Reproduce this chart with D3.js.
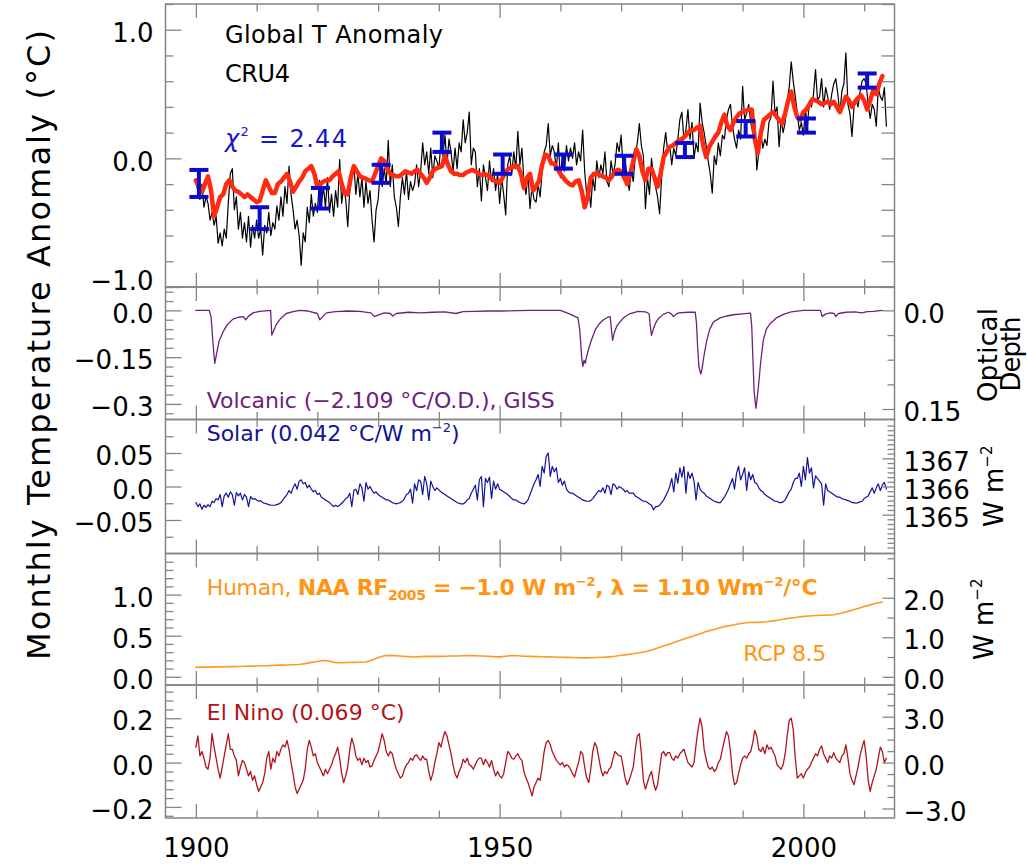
<!DOCTYPE html>
<html>
<head>
<meta charset="utf-8">
<script src="https://cdn.jsdelivr.net/npm/d3@7"></script>
<style>
  body { margin: 0; background: #fff; }
  svg { display: block; }
  text { font-family: "DejaVu Sans", "Liberation Sans", sans-serif; }
</style>
</head>
<body>
<svg id="chart" width="1027" height="864"></svg>
<script>
// ---------------- data ----------------
// CRU4 monthly global temperature anomaly (degC), three samples per year from 1900
const cruStart = 1900, cruPerYear = 3;
const cru4 = [
  -0.19,-0.25,-0.32, -0.20,-0.38,-0.30, -0.35,-0.48,-0.42, -0.52,-0.45,-0.66, -0.58,-0.68,-0.55, -0.62,-0.35,-0.12, -0.08,-0.40,-0.30, -0.55,-0.42,-0.62, -0.50,-0.65,-0.45, -0.69,-0.52,-0.62,
  -0.48,-0.62,-0.55, -0.75,-0.52,-0.58, -0.42,-0.60,-0.50, -0.55,-0.37,-0.48, -0.30,-0.45,-0.22, -0.35,-0.06,-0.28, -0.40,-0.55,-0.48, -0.60,-0.83,-0.58, -0.65,-0.38,-0.50, -0.28,-0.45,-0.35,
  -0.42,-0.17,-0.35, -0.22,-0.38,-0.15, -0.42,-0.28,-0.45, -0.25,-0.38,-0.01, -0.35,-0.22,-0.32, -0.53,-0.25,-0.15, -0.05,-0.28,-0.12, -0.30,-0.15,-0.38, -0.18,-0.35,-0.25, -0.48,-0.65,-0.40,
  -0.32,-0.12,-0.22, -0.08,-0.20,0.14, -0.22,-0.05,-0.30, -0.38,-0.53,-0.30, -0.15,-0.28,-0.10, -0.32,-0.18,-0.25, -0.20,-0.05,-0.22, -0.10,0.12,-0.05, 0.05,-0.12,0.08, -0.15,0.02,-0.02,
  -0.08,0.12,0.02, 0.18,-0.05,0.15, 0.05,-0.10,0.08, -0.08,0.12,0.05, 0.30,0.12,0.20, 0.36,-0.05,0.08, 0.05,-0.22,-0.08, -0.33,-0.05,-0.15, -0.25,-0.02,-0.18, -0.08,-0.25,-0.12,
  -0.35,-0.15,-0.28, -0.44,-0.05,0.02, -0.12,0.05,-0.08, 0.21,-0.05,0.08, -0.18,-0.28,-0.12, -0.39,-0.22,-0.32, -0.34,-0.20,-0.30, -0.10,0.05,0.10, 0.27,0.02,0.10, 0.05,-0.08,0.12,
  -0.15,0.02,-0.10, 0.10,-0.02,0.08, 0.00,0.12,-0.05, 0.05,-0.02,0.22, -0.10,-0.28,-0.22, -0.38,-0.15,-0.25, -0.02,-0.15,-0.05, -0.12,0.05,-0.18, -0.22,-0.02,-0.12, -0.05,0.12,0.05,
  0.18,-0.08,-0.02, -0.15,-0.25,-0.10, -0.18,0.02,0.12, 0.27,0.10,0.02, -0.39,-0.15,-0.28, 0.00,-0.15,-0.22, -0.30,-0.43,-0.15, 0.08,0.20,0.05, 0.10,-0.05,0.08, 0.02,0.15,0.30,
  0.36,0.15,0.22, 0.38,0.15,0.28, 0.00,0.12,0.05, 0.43,0.28,0.20, 0.10,-0.02,-0.12, -0.27,0.02,-0.05, 0.12,0.02,0.18, 0.15,0.30,0.38, 0.42,0.25,0.15, 0.08,0.22,0.15,
  0.56,0.30,0.35, 0.42,0.28,0.20, 0.30,-0.09,0.05, 0.20,0.08,0.15, 0.10,0.28,0.32, 0.60,0.35,0.40, 0.09,0.30,0.20, 0.28,0.45,0.55, 0.75,0.60,0.48, 0.35,0.22,0.28,
  0.18,0.38,0.25, 0.45,0.40,0.50, 0.69,0.45,0.48, 0.62,0.40,0.55, 0.48,0.38,0.50, 0.58,0.62,0.50, 0.35,0.52,0.58, 0.82,0.42,0.35, 0.17,0.40,0.45, 0.40,0.52,0.60,
  0.62,0.58,0.42, 0.31,0.42,0.38, 0.25,0.55,0.48, 0.45,0.55,0.25
];

// Fitted model (degC), two samples per year from 1900
const modelStart = 1900, modelPerYear = 2;
const model = [
  -0.17,-0.22, -0.26,-0.20, -0.14,-0.25, -0.45,-0.38, -0.30,-0.28, -0.20,-0.17, -0.22,-0.25, -0.26,-0.28, -0.30,-0.28, -0.30,-0.32,
  -0.34,-0.33, -0.25,-0.17, -0.22,-0.27, -0.27,-0.20, -0.18,-0.15, -0.12,-0.18, -0.26,-0.22, -0.18,-0.15, -0.10,-0.08, -0.06,-0.12,
  -0.22,-0.20, -0.18,-0.17, -0.17,-0.14, -0.12,-0.10, -0.20,-0.27, -0.28,-0.15, -0.06,-0.10, -0.14,-0.15, -0.16,-0.17, -0.18,-0.12,
  -0.06,0.00, -0.02,-0.08, -0.12,-0.13, -0.14,-0.14, -0.12,-0.10, -0.11,-0.12, -0.10,-0.09, -0.12,-0.15, -0.19,-0.15, -0.10,-0.08,
  -0.07,-0.06, 0.02,-0.05, -0.10,-0.12, -0.12,-0.13, -0.13,-0.11, -0.10,-0.09, -0.10,-0.12, -0.13,-0.12, -0.13,-0.15, -0.17,-0.18,
  -0.19,-0.15, -0.10,-0.08, -0.07,-0.06, -0.06,-0.12, -0.23,-0.15, -0.12,-0.25, -0.22,-0.17, -0.05,0.03, 0.02,-0.04, -0.04,-0.08,
  -0.12,-0.15, -0.18,-0.20, -0.21,-0.18, -0.17,-0.25, -0.38,-0.30, -0.15,-0.12, -0.12,-0.13, -0.14,-0.15, -0.17,-0.14, -0.10,-0.09,
  -0.10,-0.15, -0.20,-0.12, -0.02,0.07, 0.02,-0.10, -0.17,-0.08, -0.08,-0.15, -0.22,-0.12, 0.01,0.05, 0.09,0.10, 0.12,0.14,
  0.15,0.17, 0.20,0.22, 0.22,0.24, 0.25,0.10, 0.01,0.09, 0.13,0.17, 0.20,0.28, 0.34,0.25, 0.22,0.28, 0.32,0.35,
  0.36,0.37, 0.38,0.38, 0.15,0.04, 0.20,0.30, 0.32,0.34, 0.36,0.33, 0.30,0.27, 0.35,0.45, 0.52,0.40, 0.32,0.30,
  0.36,0.38, 0.42,0.46, 0.45,0.44, 0.42,0.43, 0.44,0.42, 0.44,0.40, 0.36,0.42, 0.48,0.45, 0.40,0.44, 0.47,0.49,
  0.45,0.38, 0.45,0.53, 0.50,0.58, 0.64
];

// Decadal means with uncertainty range (degC)
const decadeYears = [1900.5, 1910.5, 1920.5, 1930.5, 1940.5, 1950.5, 1960.5, 1970.5, 1980.5, 1990.5, 2000.5, 2010.5];
const decadeHigh  = [-0.09, -0.38, -0.23, -0.05, 0.20, 0.03, 0.03, 0.02, 0.12, 0.29, 0.31, 0.66];
const decadeLow   = [-0.30, -0.55, -0.39, -0.19, 0.05, -0.12, -0.08, -0.12, 0.01, 0.17, 0.20, 0.55];

// Volcanic term (degC) as [year, value]
const volcanic = [
  [1900,0],[1902.2,0],[1902.5,-0.02],[1902.8,-0.10],[1903.1,-0.17],[1903.4,-0.14],[1903.8,-0.10],[1904.5,-0.068],
  [1905.2,-0.045],[1906.1,-0.028],[1907,-0.022],[1907.8,-0.02],[1908.2,-0.03],[1908.6,-0.02],[1909.4,-0.008],[1910.5,-0.003],
  [1912.3,0],[1912.5,-0.079],[1912.8,-0.065],[1913.3,-0.043],[1914,-0.025],[1914.9,-0.01],[1916,-0.004],[1917.1,0],
  [1918.5,-0.002],[1920,-0.01],[1920.4,-0.03],[1920.9,-0.02],[1921.5,-0.008],[1923,-0.004],[1925,-0.002],[1927,-0.003],
  [1928.8,-0.008],[1929.4,-0.02],[1930,-0.015],[1931,-0.008],[1932,-0.01],[1932.4,-0.018],[1933,-0.01],[1935,-0.006],
  [1937,-0.008],[1939,-0.006],[1941,-0.005],[1942.8,-0.01],[1944,-0.004],[1946,-0.003],[1948,-0.002],[1950,-0.002],
  [1953,-0.001],[1955,0],[1958,0],[1960,0],[1961.5,-0.011],[1962.9,-0.024],[1963.2,-0.064],[1963.5,-0.15],
  [1963.7,-0.18],[1963.9,-0.16],[1964.1,-0.17],[1964.3,-0.15],[1964.7,-0.12],[1965.1,-0.096],[1965.8,-0.06],[1966.4,-0.043],
  [1967.1,-0.03],[1967.8,-0.022],[1968.2,-0.02],[1968.4,-0.06],[1968.6,-0.096],[1968.9,-0.07],[1969.3,-0.05],[1969.8,-0.037],
  [1970.5,-0.022],[1971.4,-0.011],[1972.8,-0.003],[1974,-0.005],[1974.6,-0.01],[1974.8,-0.05],[1975,-0.08],[1975.3,-0.06],
  [1975.7,-0.04],[1976.1,-0.027],[1977,-0.012],[1977.8,-0.006],[1978.3,-0.012],[1978.6,-0.02],[1979,-0.013],[1979.5,-0.008],
  [1981,-0.006],[1982.2,-0.006],[1982.4,-0.04],[1982.6,-0.12],[1982.8,-0.18],[1983.1,-0.204],[1983.3,-0.19],[1983.6,-0.15],
  [1984.1,-0.096],[1984.6,-0.06],[1985.2,-0.037],[1986.3,-0.024],[1987.4,-0.018],[1988.5,-0.014],[1990,-0.011],[1991.3,-0.009],
  [1991.5,-0.05],[1991.7,-0.16],[1991.9,-0.26],[1992.1,-0.30],[1992.2,-0.314],[1992.4,-0.28],[1992.6,-0.245],[1993,-0.16],
  [1993.4,-0.096],[1993.9,-0.06],[1994.5,-0.043],[1995.5,-0.025],[1996.7,-0.013],[1998,-0.005],[2000,0],[2002.8,0],
  [2003.1,-0.02],[2003.6,-0.012],[2004.4,-0.008],[2005.1,-0.01],[2005.3,-0.02],[2005.8,-0.01],[2007,-0.006],[2008.5,-0.005],
  [2009.6,-0.008],[2010.5,-0.004],[2011.5,-0.003],[2013,0]
];

// Solar term (degC), three samples per year from 1900
const solarStart = 1900, solarPerYear = 3;
const solar = [
  -0.024,-0.030,-0.026, -0.034,-0.028,-0.031, -0.027,-0.030,-0.022, -0.024,-0.018,-0.020, -0.012,-0.030,-0.014, -0.010,-0.016,-0.008, -0.012,-0.028,-0.009, -0.014,-0.010,-0.020, -0.012,-0.016,-0.030, -0.015,-0.019,-0.018,
  -0.020,-0.022,-0.021, -0.024,-0.025,-0.026, -0.027,-0.028,-0.028, -0.028,-0.027,-0.026, -0.024,-0.020,-0.016, -0.012,-0.006,-0.010, -0.002,0.004,-0.004, 0.008,0.010,0.004, 0.006,-0.002,0.002, -0.004,-0.008,-0.006,
  -0.012,-0.010,-0.016, -0.018,-0.020,-0.022, -0.024,-0.027,-0.030, -0.028,-0.030,-0.028, -0.025,-0.022,-0.018, -0.016,-0.010,-0.030, -0.006,-0.004,-0.012, 0.004,-0.002,-0.022, 0.006,-0.004,0.000, -0.006,-0.010,-0.008,
  -0.012,-0.014,-0.016, -0.018,-0.020,-0.020, -0.022,-0.024,-0.025, -0.026,-0.025,-0.024, -0.022,-0.018,-0.012, -0.010,-0.004,-0.025, 0.004,-0.006,0.010, 0.008,-0.012,0.015, 0.004,-0.020,0.008, 0.000,-0.006,-0.002,
  -0.005,-0.008,-0.010, -0.012,-0.014,-0.016, -0.018,-0.020,-0.022, -0.024,-0.025,-0.026, -0.026,-0.024,-0.020, -0.018,-0.010,-0.004, 0.002,-0.020,0.010, 0.015,-0.030,0.012, 0.006,0.014,-0.018, 0.008,-0.004,0.004,
  -0.004,-0.006,-0.008, -0.010,-0.012,-0.015, -0.018,-0.020,-0.020, -0.022,-0.024,-0.025, -0.026,-0.024,-0.020, -0.012,-0.004,0.004, 0.010,0.018,0.000, 0.030,0.020,0.045, 0.050,0.015,0.030, 0.022,0.028,0.006,
  0.012,0.002,0.008, -0.004,-0.008,-0.010, -0.010,-0.012,-0.014, -0.016,-0.018,-0.020, -0.021,-0.022,-0.022, -0.021,-0.018,-0.014, -0.010,-0.006,-0.008, -0.002,-0.010,0.002, 0.000,-0.012,0.004, 0.002,-0.004,0.000,
  -0.002,-0.004,-0.008, -0.006,-0.010,-0.010, -0.010,-0.014,-0.016, -0.018,-0.020,-0.022, -0.022,-0.024,-0.026, -0.028,-0.035,-0.030, -0.030,-0.028,-0.024, -0.020,-0.014,-0.008, 0.000,0.012,-0.008, 0.020,0.005,0.028,
  0.014,0.030,-0.010, 0.022,0.012,0.020, 0.008,-0.020,0.006, -0.004,-0.008,-0.010, -0.014,-0.016,-0.018, -0.020,-0.022,-0.023, -0.024,-0.024,-0.020, -0.016,-0.010,-0.004, 0.004,0.012,-0.004, 0.020,0.030,0.010,
  0.018,0.028,-0.006, 0.022,0.010,0.018, 0.006,0.004,-0.002, -0.006,-0.008,-0.012, -0.014,-0.016,-0.018, -0.020,-0.022,-0.022, -0.024,-0.024,-0.023, -0.020,-0.014,-0.008, -0.004,0.006,0.012, 0.012,0.020,0.000,
  0.030,0.010,0.043, 0.020,0.028,-0.002, 0.016,0.012,0.008, 0.004,-0.028,0.004, -0.006,-0.008,-0.010, -0.012,-0.014,-0.016, -0.016,-0.018,-0.019, -0.020,-0.021,-0.022, -0.024,-0.024,-0.025, -0.024,-0.023,-0.022,
  -0.018,-0.016,-0.014, -0.008,-0.002,-0.010, -0.002,0.004,-0.006, 0.002,0.006,-0.004
];

// Human term (degC), one sample per year from 1900
const humanStart = 1900, humanPerYear = 1;
const human = [
  0.115,0.117,0.118,0.120,0.121,0.122,0.124,0.126,0.128,0.130,
  0.132,0.134,0.136,0.140,0.142,0.144,0.147,0.150,0.160,0.175,
  0.185,0.198,0.190,0.172,0.170,0.173,0.175,0.177,0.180,0.205,
  0.235,0.255,0.260,0.255,0.250,0.245,0.240,0.245,0.248,0.250,
  0.248,0.250,0.252,0.253,0.255,0.258,0.255,0.252,0.250,0.245,
  0.242,0.250,0.258,0.255,0.250,0.248,0.245,0.243,0.242,0.240,
  0.238,0.236,0.235,0.232,0.230,0.232,0.235,0.238,0.242,0.250,
  0.262,0.270,0.280,0.292,0.305,0.325,0.350,0.375,0.400,0.425,
  0.450,0.475,0.500,0.525,0.550,0.570,0.590,0.610,0.625,0.640,
  0.652,0.660,0.662,0.665,0.670,0.680,0.690,0.705,0.715,0.725,
  0.735,0.740,0.745,0.748,0.750,0.755,0.770,0.790,0.810,0.830,
  0.855,0.875,0.895,0.910
];

// El Nino term (degC), three samples per year from 1900
const ninoStart = 1900, ninoPerYear = 3;
const nino = [
  0.07,0.12,0.03, 0.05,0.02,-0.02, -0.03,0.02,0.13, 0.07,0.02,-0.03, -0.07,-0.02,0.03, 0.08,0.13,0.06, 0.06,0.03,0.01, -0.06,-0.02,0.01, 0.00,-0.03,-0.06, -0.04,-0.08,-0.06,
  -0.10,-0.13,-0.11, -0.09,-0.05,0.02, 0.05,-0.03,0.02, 0.00,0.05,0.03, 0.06,0.08,0.07, 0.10,0.06,0.00, -0.05,-0.11,-0.14, -0.12,-0.10,-0.08, -0.03,0.06,0.10, 0.07,0.03,0.04,
  0.00,-0.02,-0.04, -0.06,-0.03,-0.05, -0.03,-0.01,0.02, 0.04,0.07,0.02, -0.05,-0.09,-0.06, -0.02,0.06,0.11, 0.08,0.03,0.01, 0.02,-0.01,0.02, 0.00,0.01,-0.02, -0.015,0.01,0.03,
  0.05,0.09,0.13, 0.10,0.05,0.03, 0.05,0.04,0.00, -0.03,-0.05,-0.07, -0.06,-0.03,-0.01, 0.00,0.02,0.01, 0.03,0.035,0.02, 0.01,0.03,0.015, 0.015,-0.04,-0.08, -0.05,0.00,0.04,
  0.09,0.07,0.11, 0.14,0.12,0.08, 0.04,-0.01,-0.05, -0.07,-0.04,-0.02, 0.015,0.00,0.02, -0.01,-0.015,-0.03, -0.01,0.01,0.02, 0.02,-0.01,0.015, 0.00,-0.02,0.01, -0.03,-0.06,-0.04,
  -0.06,-0.07,-0.05, 0.00,0.05,0.04, 0.02,0.015,0.03, 0.04,0.02,0.01, -0.04,-0.07,-0.09, -0.12,-0.15,-0.11, -0.09,-0.07,-0.08, -0.02,0.05,0.09, 0.10,0.08,0.05, 0.03,0.01,0.00,
  -0.01,0.00,-0.02, -0.01,-0.015,-0.03, -0.05,-0.065,-0.03, 0.00,0.05,0.04, -0.02,-0.07,-0.09, -0.03,0.05,0.09, 0.07,0.02,-0.03, -0.06,-0.04,-0.05, -0.03,-0.02,0.02, 0.05,0.04,0.03,
  0.03,-0.02,-0.07, -0.10,-0.08,-0.05, -0.02,0.06,0.12, 0.13,0.04,-0.08, -0.12,-0.09,-0.06, -0.04,-0.09,-0.125, -0.10,-0.03,0.04, 0.05,0.03,0.045, 0.045,0.02,0.01, 0.03,0.02,0.04,
  0.05,0.06,0.03, 0.00,-0.01,-0.02, 0.00,0.08,0.15, 0.20,0.16,0.06, 0.015,-0.02,-0.03, -0.02,-0.04,-0.03, 0.00,0.015,0.06, 0.10,0.14,0.12, 0.05,-0.05,-0.10, -0.09,-0.05,-0.01,
  0.02,0.03,0.02, 0.04,0.05,0.09, 0.145,0.12,0.06, 0.05,0.07,0.04, 0.08,0.06,0.07, 0.05,0.03,-0.01, -0.02,-0.03,-0.01, 0.04,0.12,0.19, 0.20,0.15,0.02, -0.07,-0.06,-0.05,
  -0.07,-0.045,-0.03, -0.02,0.00,0.02, 0.04,0.03,0.06, 0.075,0.04,0.02, 0.00,0.03,0.02, 0.045,0.02,0.01, 0.00,0.03,0.04, 0.08,0.02,-0.05, -0.08,-0.10,-0.06, -0.02,0.03,0.07,
  0.10,0.03,-0.08, -0.13,-0.09,-0.06, -0.03,0.02,0.07, 0.05,0.00,0.02
];

// Regression coefficients used for the right-hand axes
const volcCoef = -2.109;   // degC per optical depth
const solarCoef = 0.042;   // degC per W m-2
const solarMean = 1366;    // W m-2
const humanRightScale = 2.08; // W m-2 per degC on the forcing axis
const ninoCoef = 0.069;    // degC per index unit

// Tick values and labels
const xMajorYears = [1900, 1950, 2000];
const xMinorYears = [1910, 1920, 1930, 1940, 1960, 1970, 1980, 1990, 2010];
const xLabels = ["1900", "1950", "2000"];
const tempTicks = [1.0, 0.0, -1.0], tempLabels = ["1.0", "0.0", "\u22121.0"];
const volcTicks = [0.0, -0.15, -0.3], volcLabels = ["0.0", "\u22120.15", "\u22120.3"];
const odTicks = [0.0, 0.15], odLabels = ["0.0", "0.15"];
const solarTicks = [0.05, 0.0, -0.05], solarLabels = ["0.05", "0.0", "\u22120.05"];
const tsiTicks = [1367, 1366, 1365], tsiLabels = ["1367", "1366", "1365"];
const humanTicks = [1.0, 0.5, 0.0], humanLabels = ["1.0", "0.5", "0.0"];
const forcingTicks = [2.0, 1.0, 0.0], forcingLabels = ["2.0", "1.0", "0.0"];
const ninoTicks = [0.2, 0.0, -0.2], ninoLabels = ["0.2", "0.0", "\u22120.2"];
const ninoIdxTicks = [3.0, 0.0, -3.0], ninoIdxLabels = ["3.0", "0.0", "\u22123.0"];

// ---------------- layout ----------------
const svg = d3.select("#chart");
const L = 165.5, R = 894.5;
const frameColor = "#858585";
const x = d3.scaleLinear().domain([1895, 2015]).range([L, R]);

const P = {
  temp:  { top: 4,     bottom: 287 },
  volc:  { top: 287,   bottom: 419.5 },
  solar: { top: 419.5, bottom: 553.5 },
  human: { top: 553.5, bottom: 685 },
  nino:  { top: 685,   bottom: 818 }
};

const yTemp  = d3.scaleLinear().domain([-1.0, 1.2]).range([P.temp.bottom, P.temp.top]);
const yVolc  = d3.scaleLinear().domain([-0.35, 0.075]).range([P.volc.bottom, P.volc.top]);
const yOD    = d3.scaleLinear().domain([-0.35 / volcCoef, 0.075 / volcCoef]).range([P.volc.bottom, P.volc.top]);
const ySolar = d3.scaleLinear().domain([-0.1, 0.1]).range([P.solar.bottom, P.solar.top]);
const yTSI   = d3.scaleLinear().domain([solarMean - 0.1 / solarCoef, solarMean + 0.1 / solarCoef]).range([P.solar.bottom, P.solar.top]);
const yHuman = d3.scaleLinear().domain([-0.1, 1.5]).range([P.human.bottom, P.human.top]);
const yForce = d3.scaleLinear().domain([-0.1 * humanRightScale, 1.5 * humanRightScale]).range([P.human.bottom, P.human.top]);
const yNino  = d3.scaleLinear().domain([-0.25, 0.35]).range([P.nino.bottom, P.nino.top]);
const yIdx   = d3.scaleLinear().domain([-0.25 / ninoCoef, 0.35 / ninoCoef]).range([P.nino.bottom, P.nino.top]);

const defs = svg.append("defs");
Object.entries(P).forEach(([k, p]) => {
  defs.append("clipPath").attr("id", "clip-" + k)
    .append("rect").attr("x", L).attr("y", p.top).attr("width", R - L).attr("height", p.bottom - p.top);
});

function series(values, start, perYear) {
  return values.map((v, i) => [start + i / perYear, v]);
}

function drawLine(data, yScale, panel, color, width) {
  svg.append("path")
    .datum(data)
    .attr("clip-path", `url(#clip-${panel})`)
    .attr("fill", "none")
    .attr("stroke", color)
    .attr("stroke-width", width)
    .attr("stroke-linejoin", "round")
    .attr("stroke-linecap", "round")
    .attr("d", d3.line().x(d => x(d[0])).y(d => yScale(d[1])));
}

// ---------------- series ----------------
drawLine(series(cru4, cruStart, cruPerYear), yTemp, "temp", "#000", 1.2);
drawLine(series(model, modelStart, modelPerYear), yTemp, "temp", "#ff2a10", 4.5);

const barColor = "#0a0ad0";
const bars = svg.append("g").attr("stroke", barColor).attr("stroke-width", 4);
decadeYears.forEach((yr, i) => {
  const cx = x(yr), y1 = yTemp(decadeHigh[i]), y2 = yTemp(decadeLow[i]);
  bars.append("line").attr("x1", cx).attr("x2", cx).attr("y1", y1).attr("y2", y2);
  bars.append("line").attr("x1", cx - 9.5).attr("x2", cx + 9.5).attr("y1", y1).attr("y2", y1);
  bars.append("line").attr("x1", cx - 9.5).attr("x2", cx + 9.5).attr("y1", y2).attr("y2", y2);
});

drawLine(volcanic, yVolc, "volc", "#6e2080", 1.3);
drawLine(series(solar, solarStart, solarPerYear), ySolar, "solar", "#12129a", 1.2);
drawLine(series(human, humanStart, humanPerYear), yHuman, "human", "#ff9a1e", 1.6);
drawLine(series(nino, ninoStart, ninoPerYear), yNino, "nino", "#b0141c", 1.3);

// ---------------- frames and ticks ----------------
function marks(axisGen, scale, values, len, tx, ty) {
  const g = svg.append("g").attr("transform", `translate(${tx},${ty})`)
    .call(axisGen(scale).tickValues(values).tickSize(-len).tickFormat(""));
  g.select(".domain").remove();
  g.selectAll("line").attr("stroke", frameColor).attr("stroke-width", 1.3);
}

function labels(axisGen, scale, values, texts, pad, tx, ty, size, dy) {
  const g = svg.append("g").attr("transform", `translate(${tx},${ty})`)
    .call(axisGen(scale).tickValues(values).tickSize(0).tickPadding(pad).tickFormat((d, i) => texts[i]));
  g.select(".domain").remove();
  g.attr("font-family", null).attr("font-size", null);
  g.selectAll("text").attr("fill", "#000").style("font-size", size + "px");
  if (dy !== undefined) g.selectAll("text").attr("dy", dy);
  return g;
}

const near = (a, b) => Math.abs(a - b) < 1e-9;
const minorOf = (all, major) => all.filter(v => !major.some(m => near(m, v)));

Object.values(P).forEach(p => {
  marks(d3.axisBottom, x, xMajorYears, 14, 0, p.bottom);
  marks(d3.axisBottom, x, xMinorYears, 7.5, 0, p.bottom);
  marks(d3.axisTop, x, xMajorYears, 14, 0, p.top);
  marks(d3.axisTop, x, xMinorYears, 7.5, 0, p.top);
});

// temperature panel
const tempAll = d3.range(-10, 13, 2).map(v => v / 10);
marks(d3.axisLeft, yTemp, tempTicks, 16, L, 0);
marks(d3.axisLeft, yTemp, minorOf(tempAll, tempTicks), 8, L, 0);
marks(d3.axisRight, yTemp, tempAll, 13, R, 0);
const tl = labels(d3.axisLeft, yTemp, tempTicks, tempLabels, 12, L, 0, 26, "0.45em");
tl.selectAll("text").filter((d) => near(d, -1.0)).attr("dy", "0.1em");

// volcanic panel
const volcAll = d3.range(-11, 3).map(v => v * 0.03);
marks(d3.axisLeft, yVolc, volcTicks, 16, L, 0);
marks(d3.axisLeft, yVolc, minorOf(volcAll, volcTicks), 8, L, 0);
const odAll = [0, 0.0375, 0.075, 0.1125, 0.15];
marks(d3.axisRight, yOD, odTicks, 12, R, 0);
marks(d3.axisRight, yOD, minorOf(odAll, odTicks), 7, R, 0);
labels(d3.axisLeft, yVolc, volcTicks, volcLabels, 12, L, 0, 26, "0.45em");
labels(d3.axisRight, yOD, odTicks, odLabels, 9, R, 0, 26, "0.45em");

// solar panel
const solarAll = d3.range(-3, 4).map(v => v * 0.025);
marks(d3.axisLeft, ySolar, solarTicks, 16, L, 0);
marks(d3.axisLeft, ySolar, minorOf(solarAll, solarTicks), 8, L, 0);
const tsiAll = d3.range(-13, 14).map(v => solarMean + v / 6);
marks(d3.axisRight, yTSI, tsiTicks, 12, R, 0);
marks(d3.axisRight, yTSI, minorOf(tsiAll, tsiTicks), 7, R, 0);
labels(d3.axisLeft, ySolar, solarTicks, solarLabels, 12, L, 0, 26, "0.45em");
labels(d3.axisRight, yTSI, tsiTicks, tsiLabels, 9, R, 0, 26, "0.45em");

// human panel
const humanAll = d3.range(0, 15).map(v => v / 10);
marks(d3.axisLeft, yHuman, humanTicks, 16, L, 0);
marks(d3.axisLeft, yHuman, minorOf(humanAll, humanTicks), 8, L, 0);
const forceAll = d3.range(0, 7).map(v => v * 0.5);
marks(d3.axisRight, yForce, forcingTicks, 12, R, 0);
marks(d3.axisRight, yForce, minorOf(forceAll, forcingTicks), 7, R, 0);
labels(d3.axisLeft, yHuman, humanTicks, humanLabels, 12, L, 0, 26, "0.45em");
labels(d3.axisRight, yForce, forcingTicks, forcingLabels, 9, R, 0, 26, "0.45em");

// El Nino panel
const ninoAll = d3.range(-6, 9).map(v => v * 0.04);
marks(d3.axisLeft, yNino, ninoTicks, 16, L, 0);
marks(d3.axisLeft, yNino, minorOf(ninoAll, ninoTicks), 8, L, 0);
const idxAll = d3.range(-4, 7).map(v => v * 0.75);
marks(d3.axisRight, yIdx, ninoIdxTicks, 12, R, 0);
marks(d3.axisRight, yIdx, minorOf(idxAll, ninoIdxTicks), 7, R, 0);
labels(d3.axisLeft, yNino, ninoTicks, ninoLabels, 12, L, 0, 26, "0.45em");
labels(d3.axisRight, yIdx, ninoIdxTicks, ninoIdxLabels, 9, R, 0, 26, "0.45em");

// x labels
labels(d3.axisBottom, x, xMajorYears, xLabels, 21, 0, P.nino.bottom, 26);

// frames
Object.values(P).forEach(p => {
  svg.append("rect").attr("x", L).attr("y", p.top).attr("width", R - L).attr("height", p.bottom - p.top)
    .attr("fill", "none").attr("stroke", frameColor).attr("stroke-width", 1.5);
});

// ---------------- text ----------------
function label(txt, xx, yy, size, color, len) {
  const t = svg.append("text").attr("x", xx).attr("y", yy).attr("fill", color)
    .style("font-size", size + "px").text(txt);
  if (len) t.attr("textLength", len).attr("lengthAdjust", "spacing");
  return t;
}

label("Global T Anomaly", 225, 43, 24, "#000", 218);
label("CRU4", 225, 82, 24, "#000", 65);

const chi = svg.append("text").attr("x", 225).attr("y", 147).attr("fill", "#1515d0")
  .style("font-size", "24px").attr("textLength", 122).attr("lengthAdjust", "spacing");
chi.append("tspan").attr("font-style", "italic").text("\u03c7");
chi.append("tspan").attr("dy", -11).style("font-size", "13px").text("2");
chi.append("tspan").attr("dy", 11).text(" = 2.44");

label("Volcanic (\u22122.109 \u00b0C/O.D.), GISS", 206.7, 407.5, 22, "#6e2080", 348);

const sol = svg.append("text").attr("x", 206.7).attr("y", 441).attr("fill", "#12129a")
  .style("font-size", "22px").attr("textLength", 253).attr("lengthAdjust", "spacing");
sol.append("tspan").text("Solar (0.042 \u00b0C/W m");
sol.append("tspan").attr("dy", -9).style("font-size", "13px").text("\u22122");
sol.append("tspan").attr("dy", 9).text(")");

const hum = svg.append("text").attr("x", 206.7).attr("y", 595).attr("fill", "#ff9512")
  .style("font-size", "22px").attr("textLength", 611).attr("lengthAdjust", "spacing");
hum.append("tspan").text("Human, ");
hum.append("tspan").attr("font-weight", "bold").text("NAA RF");
hum.append("tspan").attr("font-weight", "bold").attr("dy", 5).style("font-size", "14px").text("2005");
hum.append("tspan").attr("font-weight", "bold").attr("dy", -5).text(" = \u22121.0 W m");
hum.append("tspan").attr("font-weight", "bold").attr("dy", -9).style("font-size", "13px").text("\u22122");
hum.append("tspan").attr("font-weight", "bold").attr("dy", 9).text(", \u03bb = 1.10 Wm");
hum.append("tspan").attr("font-weight", "bold").attr("dy", -9).style("font-size", "13px").text("\u22122");
hum.append("tspan").attr("font-weight", "bold").attr("dy", 9).text("/\u00b0C");

label("RCP 8.5", 743.3, 661, 22, "#ff9512", 83);
label("El Nino (0.069 \u00b0C)", 206.7, 720, 22, "#b0141c", 198);

// axis titles
svg.append("text").attr("transform", "translate(50,345) rotate(-90)")
  .attr("text-anchor", "middle").style("font-size", "32px").attr("fill", "#000")
  .attr("textLength", 630).attr("lengthAdjust", "spacing")
  .text("Monthly Temperature Anomaly (\u00b0C)");

svg.append("text").attr("transform", "translate(997,355) rotate(-90)")
  .attr("text-anchor", "middle").style("font-size", "26px").attr("fill", "#000")
  .attr("textLength", 94).attr("lengthAdjust", "spacing").text("Optical");
svg.append("text").attr("transform", "translate(1020,354) rotate(-90)")
  .attr("text-anchor", "middle").style("font-size", "26px").attr("fill", "#000")
  .attr("textLength", 75).attr("lengthAdjust", "spacing").text("Depth");

function unitLabel(tx, ty) {
  const t = svg.append("text").attr("transform", `translate(${tx},${ty}) rotate(-90)`)
    .style("font-size", "26px").attr("fill", "#000");
  t.append("tspan").text("W m");
  t.append("tspan").attr("dy", -11).style("font-size", "15px").text("\u22122");
}
unitLabel(1003, 527);
unitLabel(993, 660);
</script>
</body>
</html>
